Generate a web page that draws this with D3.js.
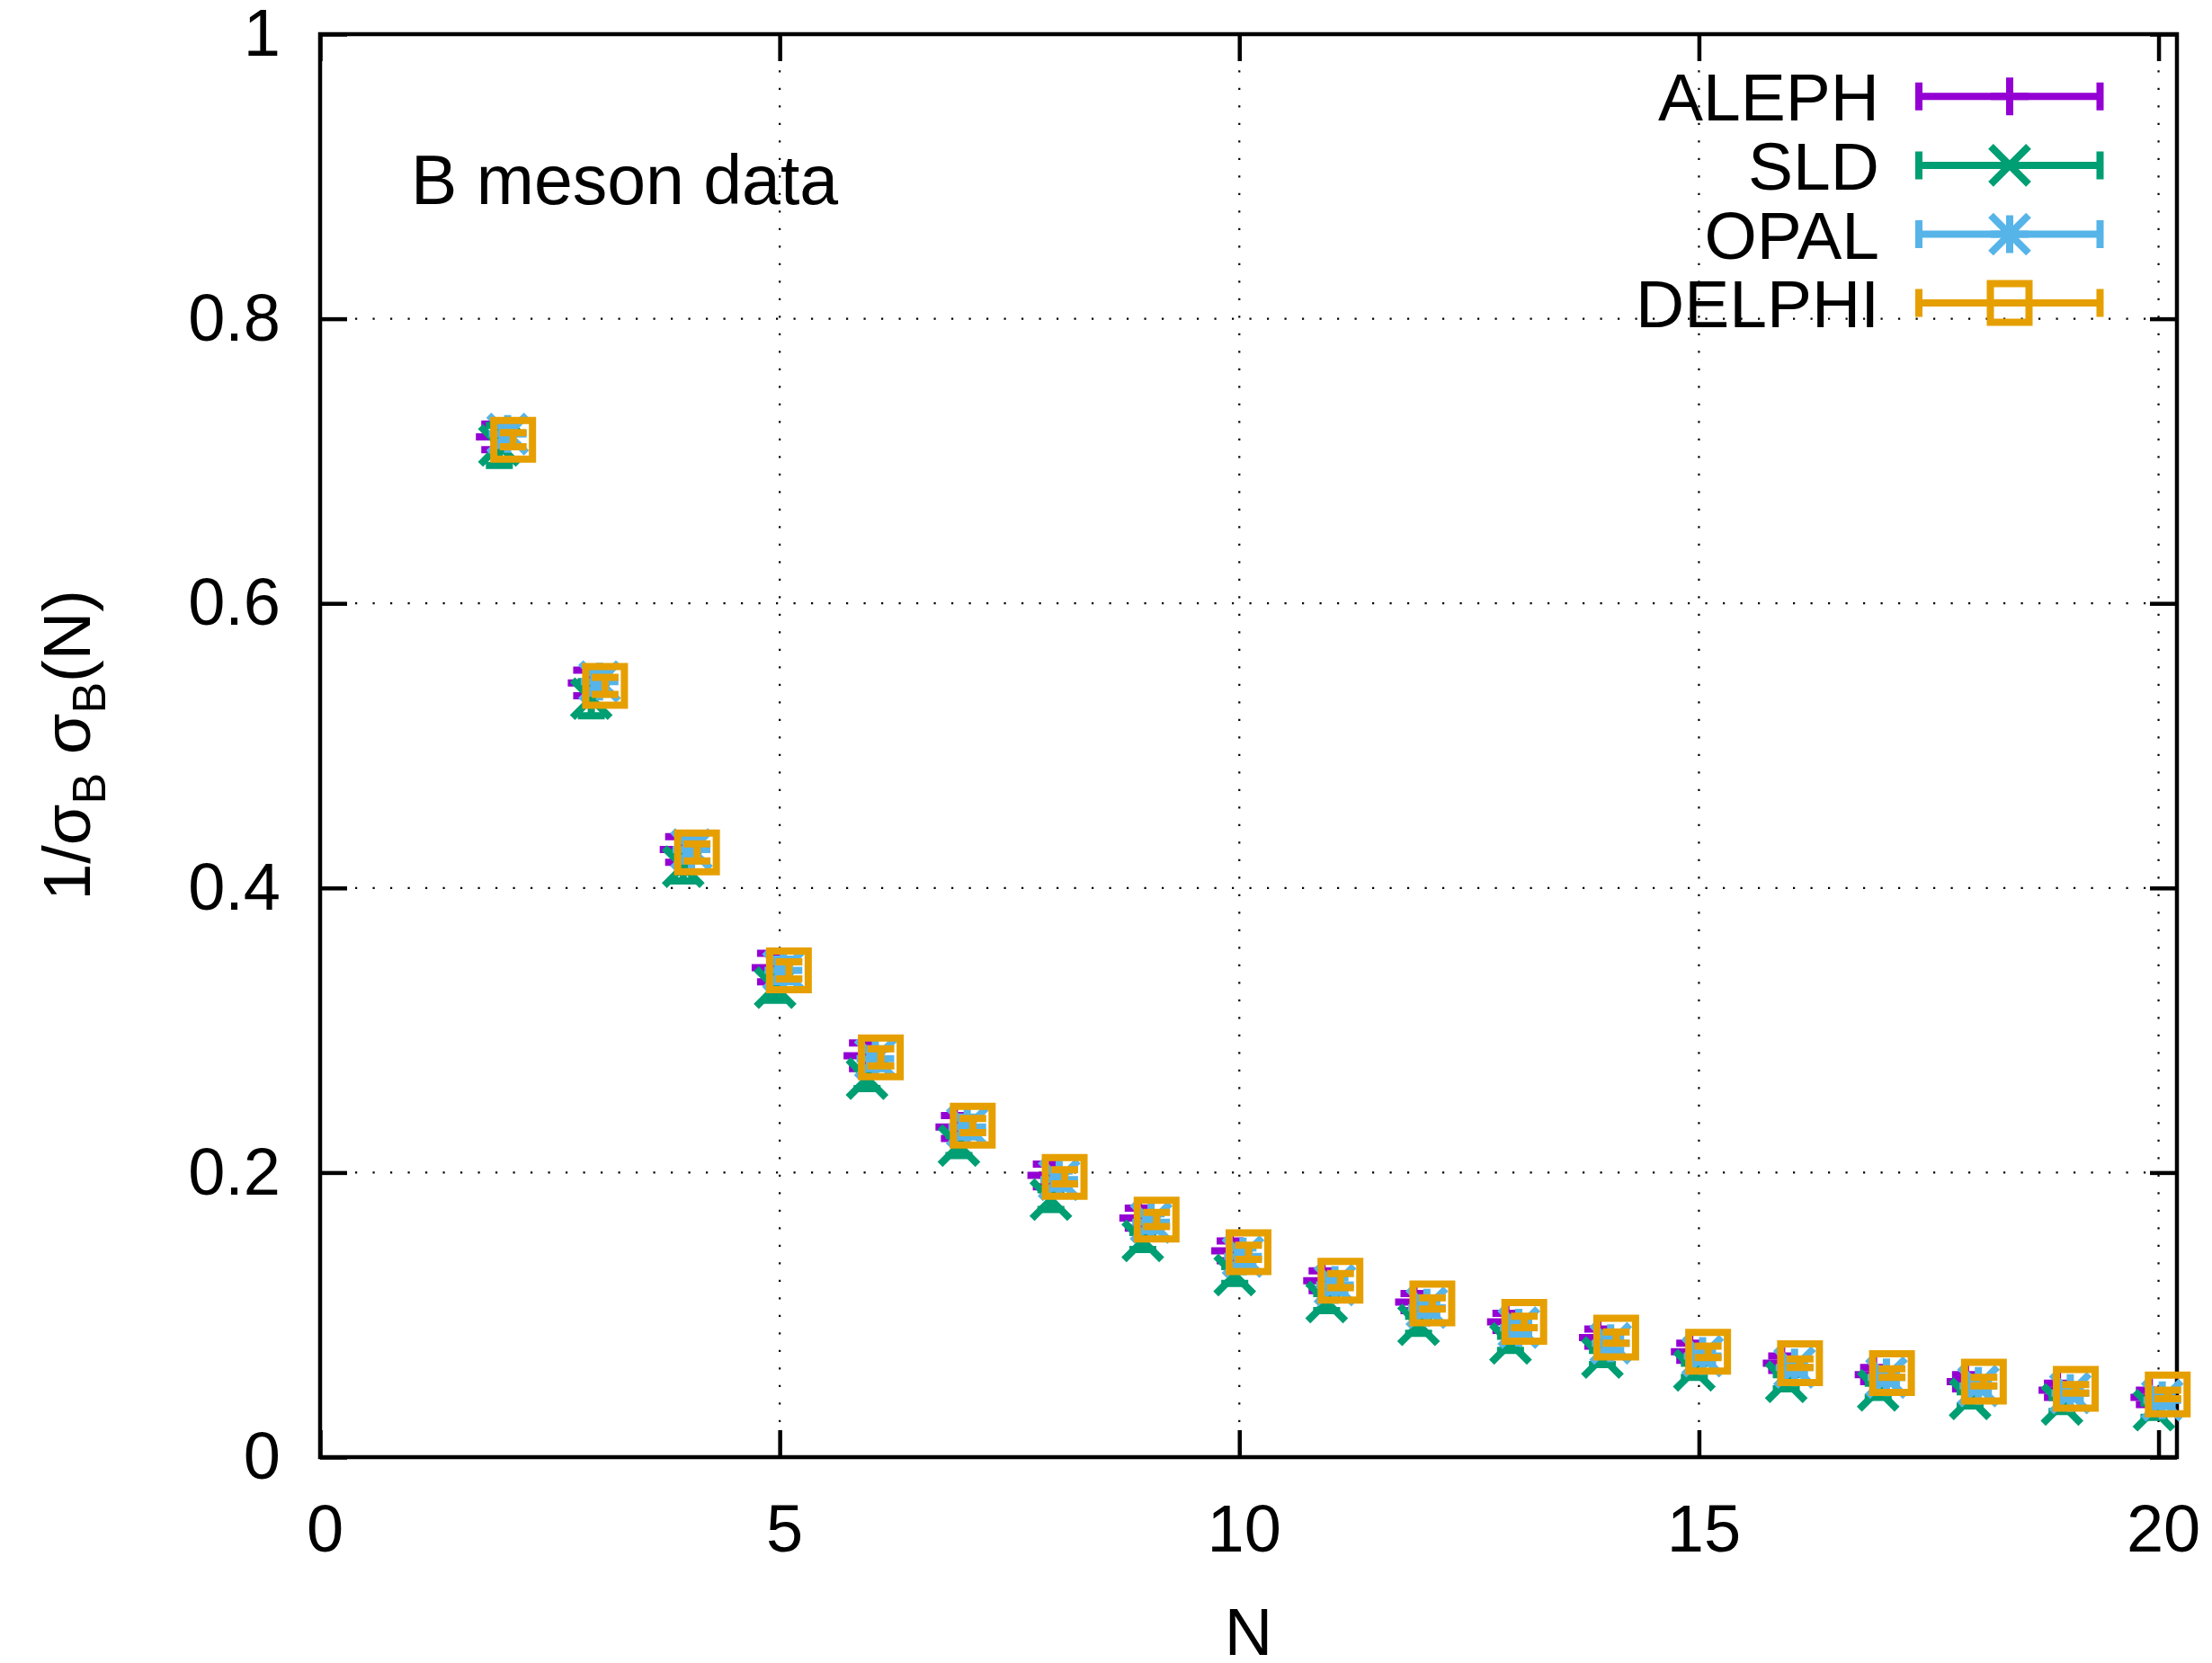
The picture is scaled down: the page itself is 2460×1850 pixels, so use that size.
<!DOCTYPE html>
<html>
<head>
<meta charset="utf-8">
<script src="https://cdn.jsdelivr.net/npm/d3@7"></script>
<style>
  html, body { margin: 0; padding: 0; background: #fff; }
  svg { display: block; }
  text { font-family: "Liberation Sans", Arial, Helvetica, sans-serif; fill: #000; }
</style>
</head>
<body>
<svg id="chart" width="2460" height="1850"></svg>
<script>
// ---------------- data ----------------
const nValues = [2, 3, 4, 5, 6, 7, 8, 9, 10, 11, 12, 13, 14, 15, 16, 17, 18, 19, 20];

const alephValues  = [0.717, 0.544, 0.427, 0.344, 0.282, 0.232, 0.198, 0.168, 0.145, 0.124, 0.109, 0.095, 0.084, 0.074, 0.066, 0.058, 0.053, 0.047, 0.042];
const alephErrors  = [0.009, 0.009, 0.009, 0.010, 0.009, 0.008, 0.008, 0.007, 0.007, 0.007, 0.006, 0.006, 0.006, 0.006, 0.005, 0.005, 0.005, 0.005, 0.005];

const sldValues    = [0.711, 0.533, 0.415, 0.330, 0.266, 0.219, 0.181, 0.152, 0.128, 0.109, 0.093, 0.080, 0.070, 0.061, 0.053, 0.047, 0.041, 0.037, 0.033];
const sldErrors    = [0.014, 0.012, 0.010, 0.009, 0.007, 0.007, 0.007, 0.006, 0.006, 0.006, 0.006, 0.005, 0.005, 0.005, 0.005, 0.005, 0.005, 0.005, 0.005];

const opalValues   = [0.719, 0.545, 0.427, 0.342, 0.280, 0.232, 0.195, 0.165, 0.141, 0.121, 0.105, 0.091, 0.080, 0.071, 0.063, 0.056, 0.050, 0.045, 0.040];
const opalErrors   = [0.008, 0.008, 0.008, 0.008, 0.007, 0.007, 0.006, 0.006, 0.006, 0.005, 0.005, 0.005, 0.005, 0.004, 0.004, 0.004, 0.004, 0.004, 0.004];

const delphiValues = [0.715, 0.542, 0.425, 0.342, 0.281, 0.233, 0.197, 0.167, 0.144, 0.124, 0.108, 0.095, 0.084, 0.074, 0.066, 0.059, 0.053, 0.048, 0.044];
const delphiErrors = [0.005, 0.006, 0.006, 0.006, 0.006, 0.005, 0.005, 0.005, 0.005, 0.005, 0.004, 0.004, 0.004, 0.004, 0.003, 0.003, 0.003, 0.003, 0.003];

const seriesNames   = ["ALEPH", "SLD", "OPAL", "DELPHI"];
const seriesShifts  = [-0.1, -0.05, 0.04, 0.1];   // horizontal offset in N
const seriesColors  = ["#9400d3", "#009e73", "#56b4e9", "#e69f00"];
const seriesSymbols = ["plus", "cross", "star", "square"];

const xTicks = [0, 5, 10, 15, 20];
const yTicks = [0, 0.2, 0.4, 0.6, 0.8, 1];
const yTickLabels = ["0", "0.2", "0.4", "0.6", "0.8", "1"];
const xDomain = [0, 20.2];
const yDomain = [0, 1];

// ---------------- layout ----------------
const L = 356, R = 2421, T = 38, B = 1621;
const LW = 8, FRAME_W = 4.5, TICK_LEN = 30, FONT = 74;

const svg = d3.select("#chart");
const x = d3.scaleLinear().domain(xDomain).range([L, R]);
const y = d3.scaleLinear().domain(yDomain).range([B, T]);

// grid
const grid = svg.append("g").attr("stroke", "#000").attr("stroke-width", 2.2)
  .attr("stroke-dasharray", "2.2,17.3").attr("fill", "none");
xTicks.filter(t => t > 0).forEach(t => {
  grid.append("line").attr("x1", x(t)).attr("x2", x(t)).attr("y1", B).attr("y2", T);
});
yTicks.filter(t => t > 0 && t < 1).forEach(t => {
  grid.append("line").attr("x1", L).attr("x2", R).attr("y1", y(t)).attr("y2", y(t));
});

// axes (inward ticks, mirrored)
function styleAxis(g) {
  g.select(".domain").remove();
  g.selectAll(".tick line").attr("stroke", "#000").attr("stroke-width", FRAME_W);
  g.selectAll(".tick text").attr("font-size", FONT).attr("fill", "#000")
    .style("font-family", '"Liberation Sans", Arial, sans-serif');
}
svg.append("g").attr("transform", `translate(0,${B})`)
  .call(d3.axisBottom(x).tickValues(xTicks).tickFormat(d3.format("d")).tickSize(-TICK_LEN).tickPadding(52))
  .call(styleAxis)
  .call(g => g.selectAll(".tick text").attr("dx", 5));
svg.append("g").attr("transform", `translate(0,${T})`)
  .call(d3.axisTop(x).tickValues(xTicks).tickFormat("").tickSize(-TICK_LEN))
  .call(styleAxis);
svg.append("g").attr("transform", `translate(${L},0)`)
  .call(d3.axisLeft(y).tickValues(yTicks).tickFormat((d, i) => yTickLabels[i]).tickSize(-TICK_LEN).tickPadding(44))
  .call(styleAxis);
svg.append("g").attr("transform", `translate(${R},0)`)
  .call(d3.axisRight(y).tickValues(yTicks).tickFormat("").tickSize(-TICK_LEN))
  .call(styleAxis);

// frame
svg.append("rect").attr("x", L).attr("y", T).attr("width", R - L).attr("height", B - T)
  .attr("fill", "none").attr("stroke", "#000").attr("stroke-width", FRAME_W);

// symbols
const H = 21, SQ = 21.5, CAP = 15;
function symbolPath(kind) {
  const plus = `M${-H},0H${H}M0,${-H}V${H}`;
  const cross = `M${-H},${-H}L${H},${H}M${-H},${H}L${H},${-H}`;
  if (kind === "plus") return plus;
  if (kind === "cross") return cross;
  if (kind === "star") return plus + cross;
  return `M${-SQ},${-SQ}H${SQ}V${SQ}H${-SQ}Z`;
}

// data series
const allValues = [alephValues, sldValues, opalValues, delphiValues];
const allErrors = [alephErrors, sldErrors, opalErrors, delphiErrors];

seriesNames.forEach((name, si) => {
  const color = seriesColors[si];
  const data = nValues.map((n, i) => ({ n: n + seriesShifts[si], v: allValues[si][i], e: allErrors[si][i] }));
  const g = svg.append("g").attr("stroke", color).attr("stroke-width", LW).attr("fill", "none")
    .attr("stroke-linecap", "butt");
  g.selectAll("path.err").data(data).join("path").attr("class", "err")
    .attr("d", d => {
      const cx = x(d.n), y1 = y(d.v - d.e), y2 = y(d.v + d.e);
      return `M${cx},${y1}V${y2}M${cx - CAP},${y1}H${cx + CAP}M${cx - CAP},${y2}H${cx + CAP}`;
    });
  g.selectAll("path.pt").data(data).join("path").attr("class", "pt")
    .attr("transform", d => `translate(${x(d.n)},${y(d.v)})`)
    .attr("d", symbolPath(seriesSymbols[si]));
});

// legend
const legTextX = 2090, legX1 = 2134, legX2 = 2335.5, legMid = 2235, legY0 = 107.3, legDy = 76.6;
seriesNames.forEach((name, si) => {
  const cy = legY0 + si * legDy;
  const color = seriesColors[si];
  svg.append("text").attr("x", legTextX).attr("y", cy + 27).attr("text-anchor", "end")
    .attr("font-size", 75).text(name);
  const g = svg.append("g").attr("stroke", color).attr("stroke-width", LW).attr("fill", "none");
  g.append("path").attr("d", `M${legX1},${cy}H${legX2}M${legX1},${cy - 15.5}V${cy + 15.5}M${legX2},${cy - 15.5}V${cy + 15.5}`);
  g.append("path").attr("transform", `translate(${legMid},${cy})`).attr("d", symbolPath(seriesSymbols[si]));
});

// annotation
svg.append("text").attr("x", 457).attr("y", 227).attr("font-size", 77).text("B meson data");

// axis labels
svg.append("text").attr("x", (L + R) / 2).attr("y", 1841).attr("text-anchor", "middle")
  .attr("font-size", FONT).text("N");

const yl = svg.append("text").attr("transform", "translate(100,829) rotate(-90)")
  .attr("text-anchor", "middle").attr("font-size", FONT);
yl.append("tspan").text("1/σ");
yl.append("tspan").attr("font-size", 52).attr("dy", 17).text("B");
yl.append("tspan").attr("dy", -17).text(" σ");
yl.append("tspan").attr("font-size", 52).attr("dy", 17).text("B");
yl.append("tspan").attr("dy", -17).text("(N)");
</script>
</body>
</html>
